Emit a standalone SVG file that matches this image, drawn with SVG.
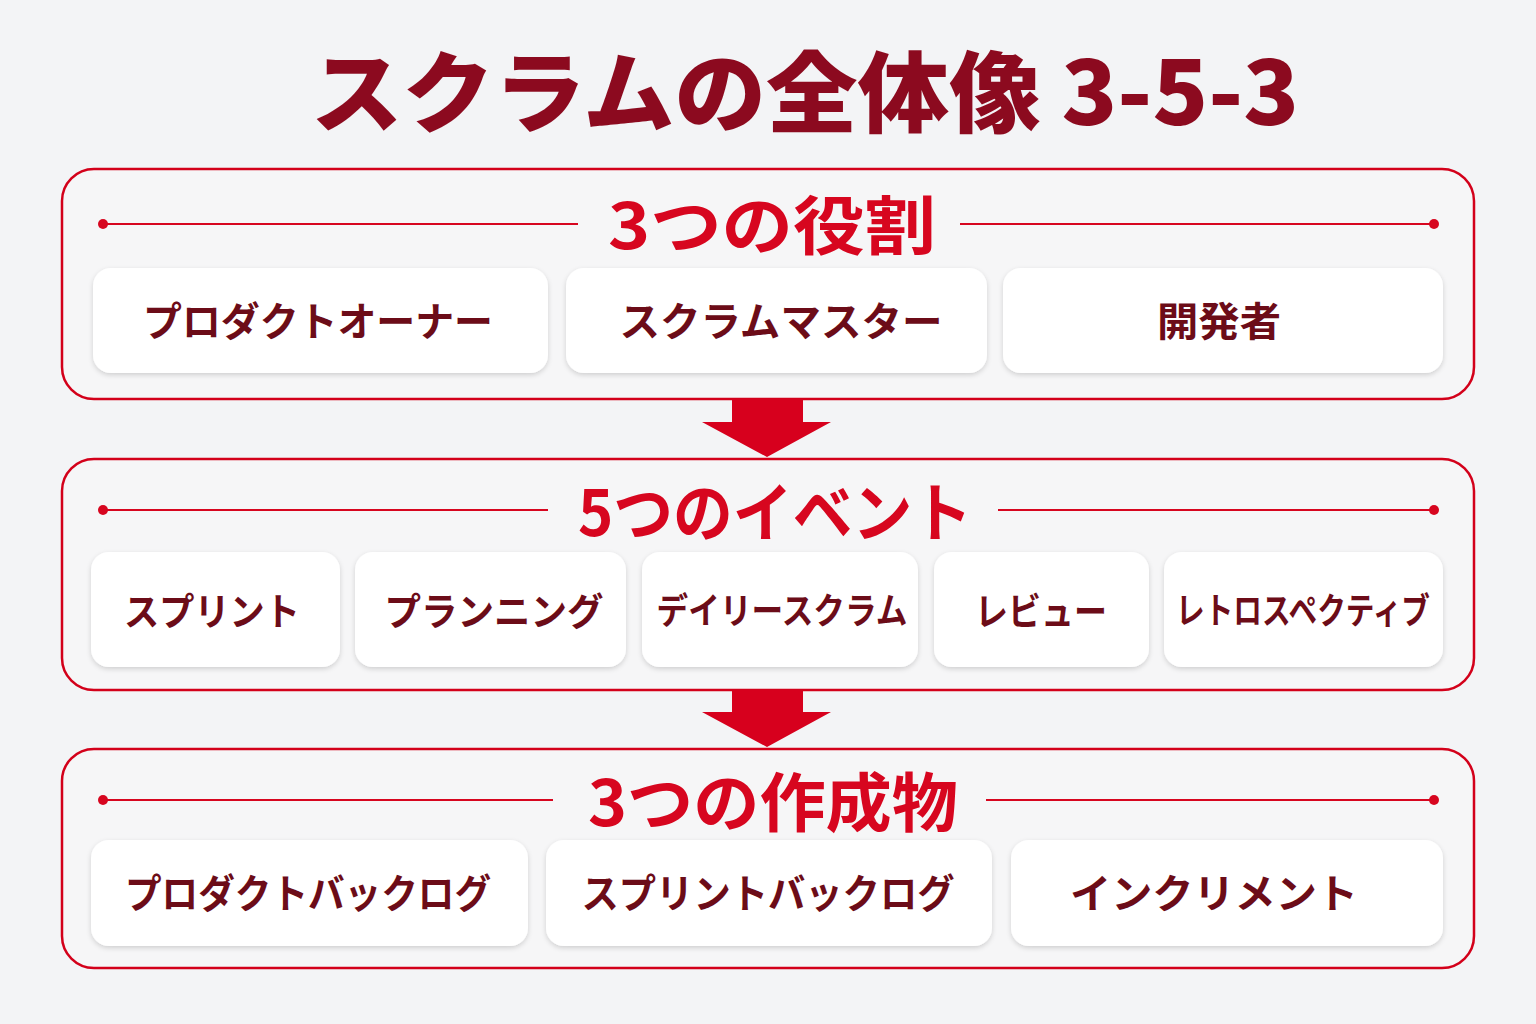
<svg xmlns="http://www.w3.org/2000/svg" width="1536" height="1024" viewBox="0 0 1536 1024">
<defs>
<filter id="sh" x="-10%" y="-20%" width="120%" height="150%">
<feDropShadow dx="0" dy="2" stdDeviation="2.5" flood-color="#000" flood-opacity="0.16"/>
</filter>
<style>
.panel{fill:#f6f6f7;stroke:#d3001a;stroke-width:2.5}
.card{fill:#ffffff;filter:url(#sh)}
.ct{font-family:"Noto Sans CJK JP","Noto Sans",sans-serif;font-weight:700;fill:#6c0c18;text-anchor:middle;dominant-baseline:central}
.hd{font-family:"Noto Sans CJK JP","Noto Sans",sans-serif;font-weight:700;fill:#d7061f;text-anchor:middle;dominant-baseline:central;font-size:64px}
.rule{stroke:#d7061f;stroke-width:2}
.dot{fill:#d7061f}
.arrow{fill:#d7001d}
.title{font-family:"Noto Sans CJK JP","Noto Sans",sans-serif;font-weight:900;fill:#8c0a1f;text-anchor:middle;dominant-baseline:central;font-size:88px}
</style>
</defs>
<rect width="1536" height="1024" fill="#f3f4f6"/>
<text class="title" x="805" y="86" textLength="988" lengthAdjust="spacingAndGlyphs">スクラムの全体像 3-5-3</text>

<g id="panel-roles">
<rect class="panel" x="62" y="169" width="1412" height="230" rx="32"/>
<line class="rule" x1="103" y1="224" x2="578" y2="224"/>
<line class="rule" x1="960" y1="224" x2="1434" y2="224"/>
<circle class="dot" cx="103" cy="224" r="5"/>
<circle class="dot" cx="1434" cy="224" r="5"/>
<text class="hd" x="772" y="221" textLength="328" lengthAdjust="spacingAndGlyphs">3つの役割</text>
</g>
<g id="card-po"><rect class="card" x="93" y="268" width="455" height="105" rx="18"/><text class="ct" x="318" y="319" font-size="40" textLength="350" lengthAdjust="spacingAndGlyphs">プロダクトオーナー</text></g>
<g id="card-sm"><rect class="card" x="566" y="268" width="421" height="105" rx="18"/><text class="ct" x="781" y="319" font-size="40" textLength="323" lengthAdjust="spacingAndGlyphs">スクラムマスター</text></g>
<g id="card-dev"><rect class="card" x="1003" y="268" width="440" height="105" rx="18"/><text class="ct" x="1219" y="319" font-size="40" textLength="124" lengthAdjust="spacingAndGlyphs">開発者</text></g>

<g id="panel-events">
<rect class="panel" x="62" y="459" width="1412" height="231" rx="32"/>
<line class="rule" x1="103" y1="510" x2="548" y2="510"/>
<line class="rule" x1="998" y1="510" x2="1434" y2="510"/>
<circle class="dot" cx="103" cy="510" r="5"/>
<circle class="dot" cx="1434" cy="510" r="5"/>
<text class="hd" x="775" y="508" textLength="394" lengthAdjust="spacingAndGlyphs">5つのイベント</text>
</g>
<g id="card-sprint"><rect class="card" x="91" y="552" width="249" height="115" rx="18"/><text class="ct" x="212" y="608" font-size="38" textLength="176" lengthAdjust="spacingAndGlyphs">スプリント</text></g>
<g id="card-planning"><rect class="card" x="355" y="552" width="271" height="115" rx="18"/><text class="ct" x="494" y="608" font-size="38" textLength="219" lengthAdjust="spacingAndGlyphs">プランニング</text></g>
<g id="card-daily"><rect class="card" x="642" y="552" width="276" height="115" rx="18"/><text class="ct" x="782" y="608" font-size="36" textLength="251" lengthAdjust="spacingAndGlyphs">デイリースクラム</text></g>
<g id="card-review"><rect class="card" x="934" y="552" width="215" height="115" rx="18"/><text class="ct" x="1041" y="608" font-size="38" textLength="132" lengthAdjust="spacingAndGlyphs">レビュー</text></g>
<g id="card-retro"><rect class="card" x="1164" y="552" width="279" height="115" rx="18"/><text class="ct" x="1303" y="608" font-size="36" textLength="254" lengthAdjust="spacingAndGlyphs">レトロスペクティブ</text></g>

<g id="panel-artifacts">
<rect class="panel" x="62" y="749" width="1412" height="219" rx="32"/>
<line class="rule" x1="103" y1="800" x2="553" y2="800"/>
<line class="rule" x1="986" y1="800" x2="1434" y2="800"/>
<circle class="dot" cx="103" cy="800" r="5"/>
<circle class="dot" cx="1434" cy="800" r="5"/>
<text class="hd" x="773" y="798" textLength="370" lengthAdjust="spacingAndGlyphs">3つの作成物</text>
</g>
<g id="card-pbl"><rect class="card" x="91" y="840" width="437" height="106" rx="18"/><text class="ct" x="308" y="891" font-size="40" textLength="366" lengthAdjust="spacingAndGlyphs">プロダクトバックログ</text></g>
<g id="card-sbl"><rect class="card" x="546" y="840" width="446" height="106" rx="18"/><text class="ct" x="768" y="891" font-size="40" textLength="373" lengthAdjust="spacingAndGlyphs">スプリントバックログ</text></g>
<g id="card-inc"><rect class="card" x="1011" y="840" width="432" height="106" rx="18"/><text class="ct" x="1214" y="891" font-size="40" textLength="288" lengthAdjust="spacingAndGlyphs">インクリメント</text></g>

<g id="connectors">
<polygon class="arrow" points="732,399 803,399 803,422 831,422 767,457 702,422 732,422"/>
<polygon class="arrow" points="732,690 803,690 803,712 831,712 767,747 702,712 732,712"/>
</g>
</svg>
